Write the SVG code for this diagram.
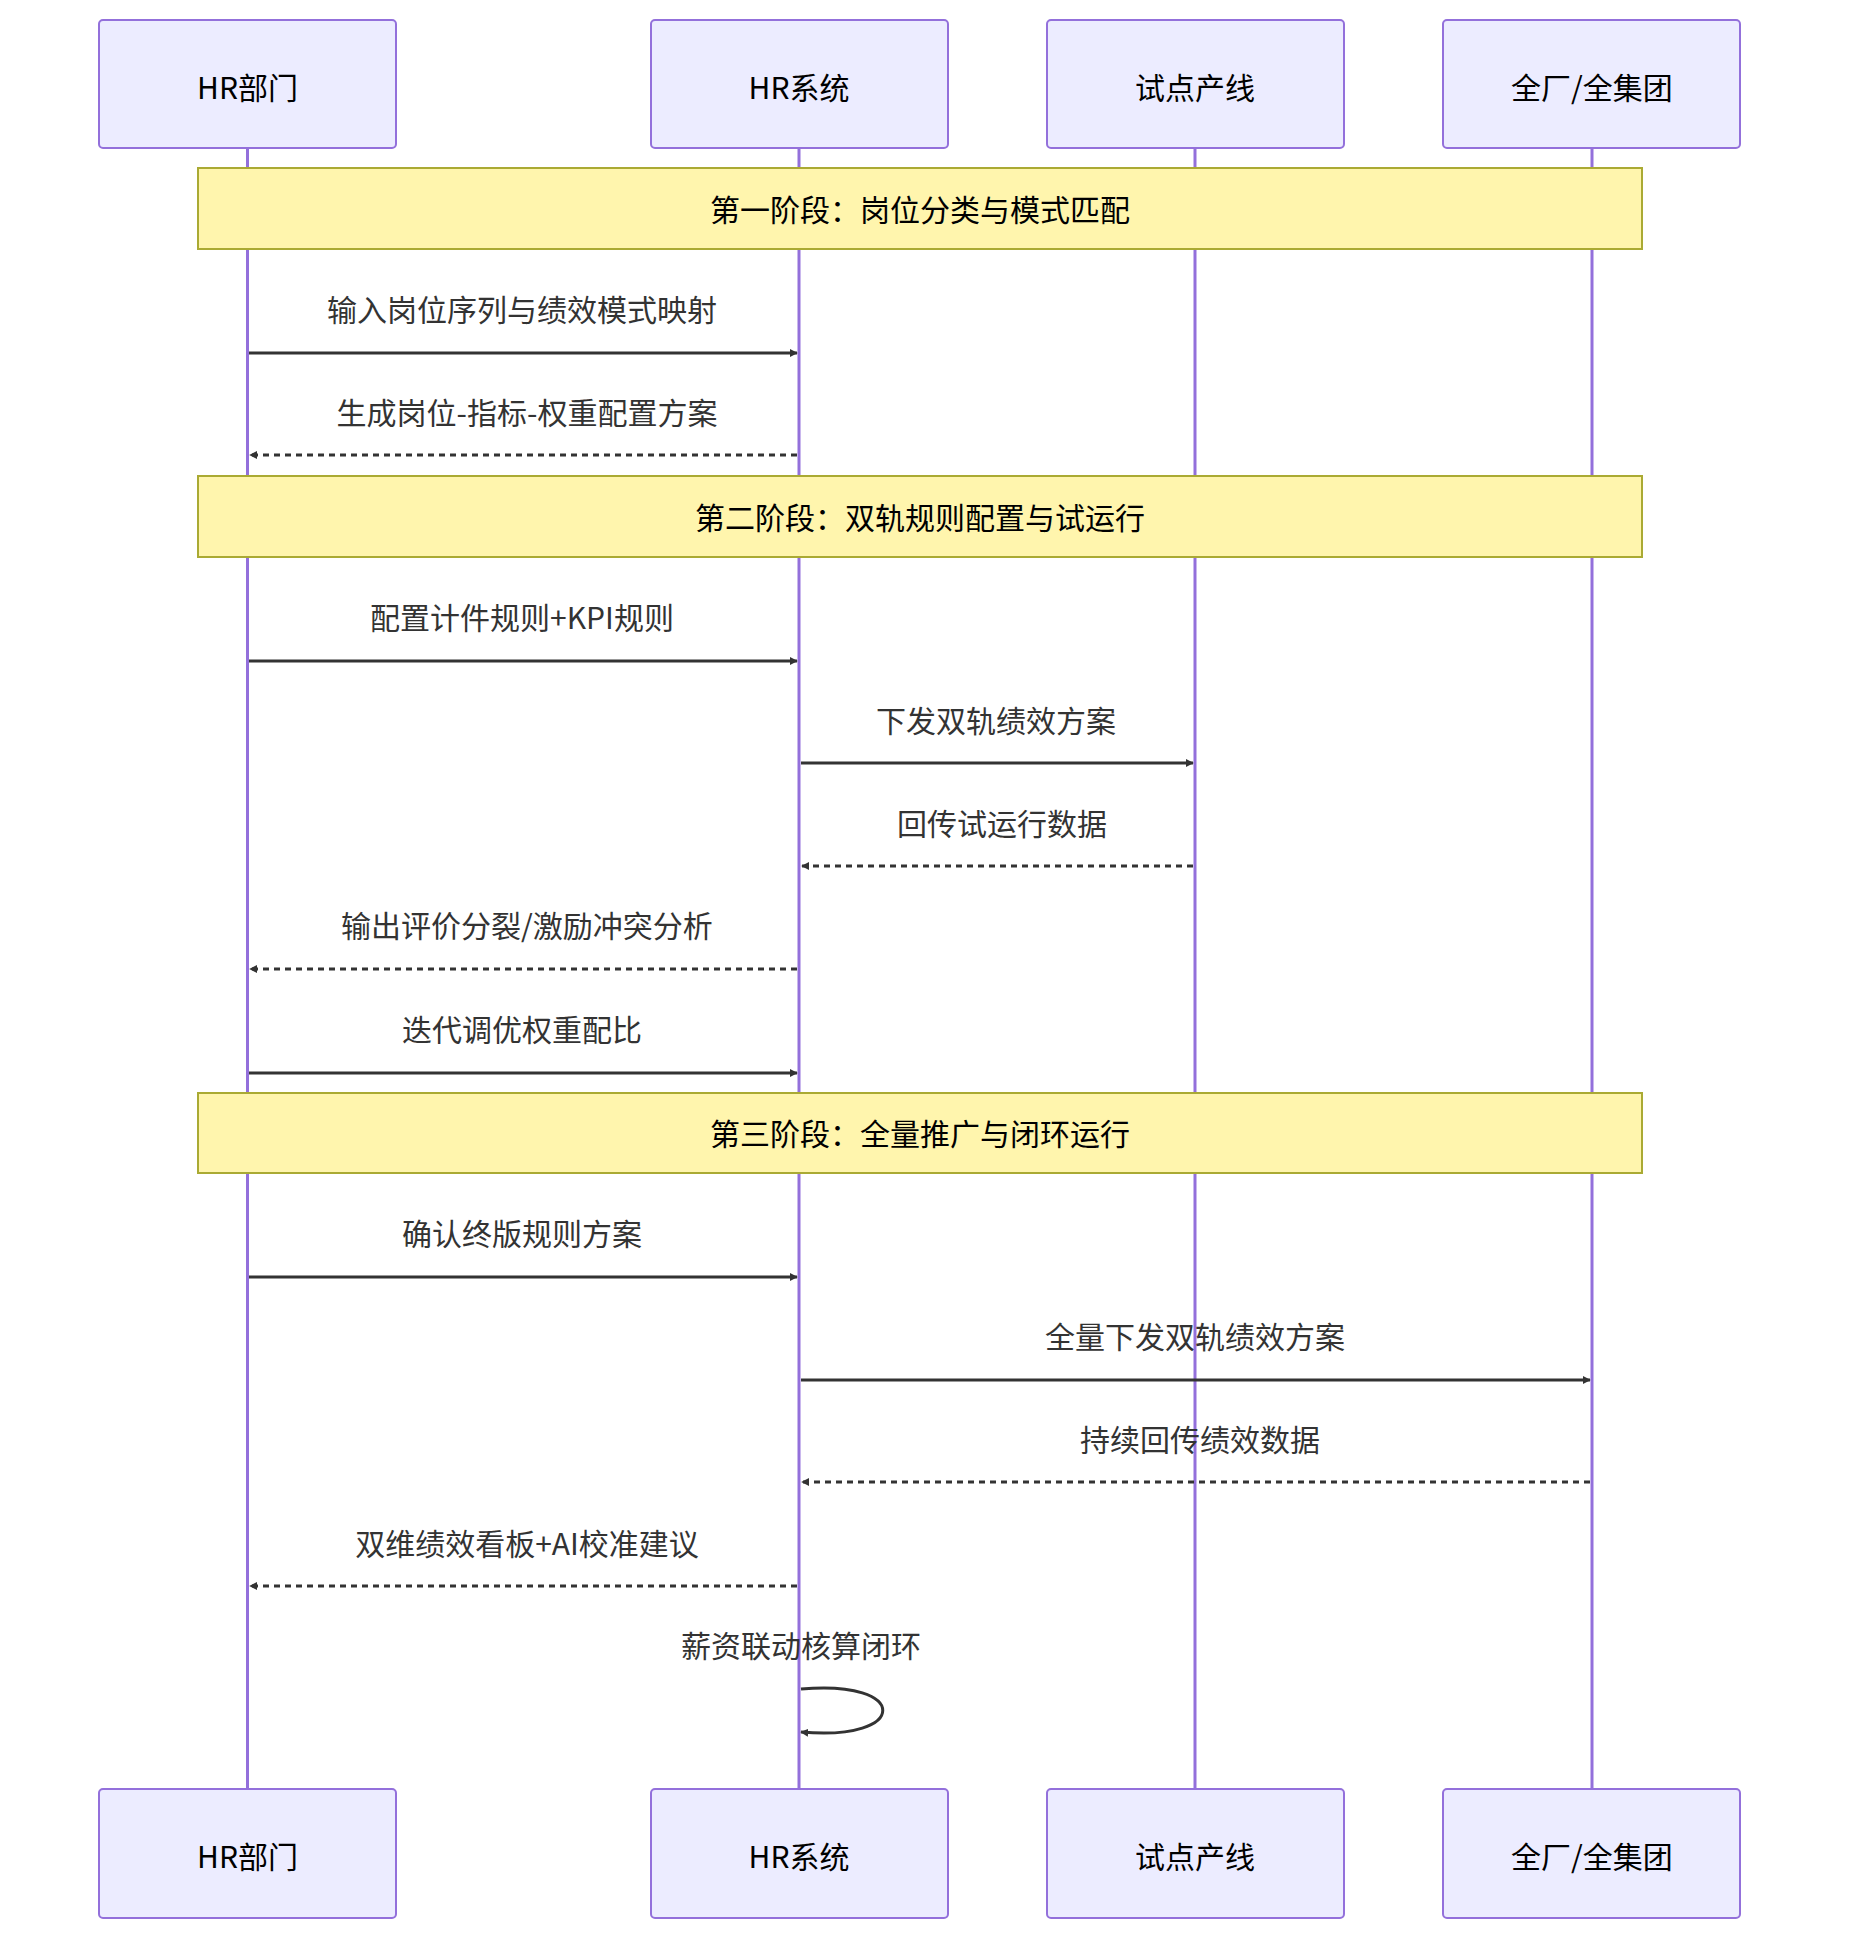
<svg xmlns="http://www.w3.org/2000/svg" width="1856" height="1956" viewBox="0 0 1856 1956">
<style>
.a{fill:#ECECFF;stroke:#9370DB;stroke-width:2}
.l{stroke:#9370DB;stroke-width:3}
.n{fill:#fff5ad;stroke:#aaaa33;stroke-width:2}
.t{font-family:"Noto Sans CJK SC","Noto Sans",sans-serif;font-size:30px;fill:#000;text-anchor:middle;dominant-baseline:central}
.m{font-family:"Noto Sans CJK SC","Noto Sans",sans-serif;font-size:30px;fill:#333;text-anchor:middle;dominant-baseline:central}
.s{stroke:#333;stroke-width:3;fill:none;marker-end:url(#h)}
.d{stroke:#333;stroke-width:3;fill:none;stroke-dasharray:6 5;marker-end:url(#h)}
</style>
<defs><marker id="h" viewBox="0 0 10 10" refX="9" refY="5" markerWidth="8" markerHeight="8" markerUnits="userSpaceOnUse" orient="auto"><path d="M0,0L10,5L0,10z" fill="#333"/></marker>
<marker id="h2" viewBox="0 0 10 10" refX="9" refY="5" markerWidth="7" markerHeight="7" orient="auto"><path d="M0,0L10,5L0,10z" fill="#333"/></marker></defs>
<g id="lifelines">
<line class="l" x1="247.5" y1="148" x2="247.5" y2="1789"/>
<line class="l" x1="799" y1="148" x2="799" y2="1789"/>
<line class="l" x1="1195" y1="148" x2="1195" y2="1789"/>
<line class="l" x1="1592" y1="148" x2="1592" y2="1789"/>
</g>
<g id="actor-hr"><rect class="a" x="99" y="20" width="297" height="128" rx="4"/><text class="t" x="247.5" y="86">HR部门</text>
<rect class="a" x="99" y="1789" width="297" height="129" rx="4"/><text class="t" x="247.5" y="1855">HR部门</text></g>
<g id="actor-sys"><rect class="a" x="651" y="20" width="297" height="128" rx="4"/><text class="t" x="799" y="86">HR系统</text>
<rect class="a" x="651" y="1789" width="297" height="129" rx="4"/><text class="t" x="799" y="1855">HR系统</text></g>
<g id="actor-pilot"><rect class="a" x="1047" y="20" width="297" height="128" rx="4"/><text class="t" x="1195" y="86">试点产线</text>
<rect class="a" x="1047" y="1789" width="297" height="129" rx="4"/><text class="t" x="1195" y="1855">试点产线</text></g>
<g id="actor-all"><rect class="a" x="1443" y="20" width="297" height="128" rx="4"/><text class="t" x="1592" y="86">全厂/全集团</text>
<rect class="a" x="1443" y="1789" width="297" height="129" rx="4"/><text class="t" x="1592" y="1855">全厂/全集团</text></g>
<g id="note1"><rect class="n" x="198" y="168" width="1444" height="81"/><text class="t" x="920" y="208">第一阶段：岗位分类与模式匹配</text></g>
<g id="note2"><rect class="n" x="198" y="476" width="1444" height="81"/><text class="t" x="920" y="516">第二阶段：双轨规则配置与试运行</text></g>
<g id="note3"><rect class="n" x="198" y="1093" width="1444" height="80"/><text class="t" x="920" y="1132">第三阶段：全量推广与闭环运行</text></g>
<g id="connectors">
<line class="s" x1="249" y1="353" x2="797" y2="353"/>
<line class="d" x1="797" y1="455" x2="250" y2="455"/>
<line class="s" x1="249" y1="661" x2="797" y2="661"/>
<line class="s" x1="801" y1="763" x2="1193" y2="763"/>
<line class="d" x1="1193" y1="866" x2="802" y2="866"/>
<line class="d" x1="797" y1="969" x2="250" y2="969"/>
<line class="s" x1="249" y1="1073" x2="797" y2="1073"/>
<line class="s" x1="249" y1="1277" x2="797" y2="1277"/>
<line class="s" x1="801" y1="1380" x2="1590" y2="1380"/>
<line class="d" x1="1590" y1="1482" x2="802" y2="1482"/>
<line class="d" x1="797" y1="1586" x2="250" y2="1586"/>
<path class="s" d="M801,1689 C910,1679 910,1742 801,1732"/>
</g>
<g id="labels">
<text class="m" x="522" y="308">输入岗位序列与绩效模式映射</text>
<text class="m" x="527" y="411">生成岗位-指标-权重配置方案</text>
<text class="m" x="522" y="616">配置计件规则+KPI规则</text>
<text class="m" x="996" y="719">下发双轨绩效方案</text>
<text class="m" x="1002" y="822">回传试运行数据</text>
<text class="m" x="527" y="924">输出评价分裂/激励冲突分析</text>
<text class="m" x="522" y="1028">迭代调优权重配比</text>
<text class="m" x="522" y="1232">确认终版规则方案</text>
<text class="m" x="1195" y="1335">全量下发双轨绩效方案</text>
<text class="m" x="1200" y="1438">持续回传绩效数据</text>
<text class="m" x="527" y="1542">双维绩效看板+AI校准建议</text>
<text class="m" x="801" y="1644">薪资联动核算闭环</text>
</g>
</svg>
